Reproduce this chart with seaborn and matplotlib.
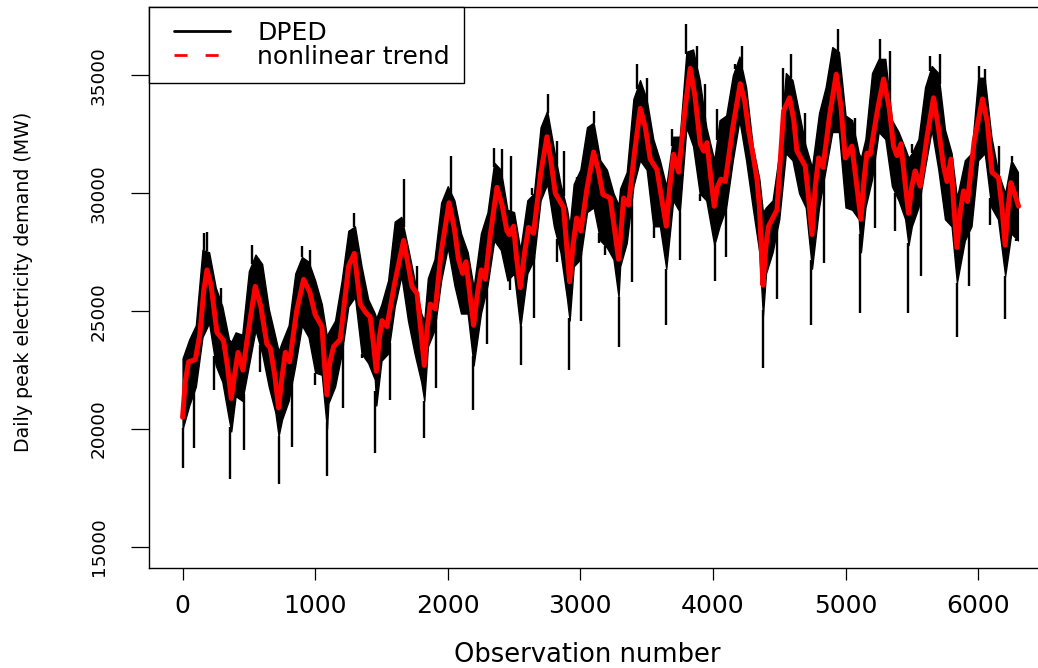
import numpy as np
import pandas as pd
import matplotlib
matplotlib.use("Agg")
import matplotlib.pyplot as plt
import seaborn as sns
from matplotlib.lines import Line2D
from matplotlib.legend_handler import HandlerLine2D

sns.set_style("ticks")
plt.rcParams["font.family"] = ["DejaVu Sans"]
plt.rcParams["text.color"] = "black"
plt.rcParams["axes.labelcolor"] = "black"
plt.rcParams["xtick.color"] = "black"
plt.rcParams["ytick.color"] = "black"

# Daily peak electricity demand: upper / lower extent of the dense daily band
band_obs = [0, 50, 100, 150, 200, 250, 300, 350, 367, 400, 450, 500, 550, 600, 650,
            700, 724, 750, 800, 850, 900, 950, 1000, 1050, 1089, 1100, 1150, 1200,
            1250, 1300, 1350, 1400, 1450, 1461, 1500, 1550, 1600, 1650, 1700, 1750,
            1800, 1823, 1850, 1900, 1950, 2000, 2050, 2100, 2150, 2195, 2250, 2300,
            2350, 2400, 2450, 2500, 2547, 2600, 2650, 2700, 2750, 2800, 2850, 2900,
            2919, 2950, 3000, 3050, 3100, 3150, 3200, 3250, 3288, 3300, 3350, 3400,
            3450, 3500, 3550, 3600, 3648, 3700, 3750, 3800, 3850, 3900, 3950, 4010,
            4050, 4100, 4150, 4200, 4250, 4300, 4350, 4377, 4400, 4450, 4500, 4550,
            4600, 4650, 4700, 4747, 4800, 4850, 4900, 4950, 5000, 5050, 5100, 5116,
            5150, 5200, 5250, 5300, 5350, 5400, 5450, 5475, 5500, 5550, 5600, 5650,
            5700, 5750, 5800, 5840, 5900, 5950, 6000, 6050, 6100, 6150, 6204, 6250,
            6300]
band_hi = [23000, 23800, 24400, 27600, 27500, 26000, 25200, 23800, 23700, 24100, 24000,
           26700, 27400, 27000, 25100, 23900, 23300, 23700, 24400, 26600, 27300, 27100,
           26300, 25300, 23900, 24100, 24600, 26300, 28400, 28600, 26900, 25500, 24900,
           24700, 25300, 26300, 28800, 29000, 27700, 26300, 24900, 24600, 26400, 27200,
           29600, 30300, 29700, 28300, 27500, 26000, 28300, 29200, 31300, 31000, 29300,
           29200, 27600, 29700, 30000, 32800, 33500, 31900, 30400, 29300, 28600, 30400,
           31000, 32800, 33000, 31400, 31000, 30000, 29500, 30200, 30900, 34000, 34800,
           34000, 32300, 31400, 30300, 32400, 32400, 36000, 36100, 34800, 32800, 31400,
           33100, 33300, 35000, 35800, 34500, 32000, 30600, 29200, 29400, 29700, 31700,
           35100, 34800, 33400, 32000, 31100, 33400, 34500, 36200, 36000, 33300, 33100,
           31700, 31500, 32300, 35100, 35700, 35700, 33100, 32600, 31900, 31500, 31700,
           32300, 34500, 35400, 35100, 32700, 31700, 29800, 31400, 31700, 34900, 34900,
           32400, 30900, 30000, 31400, 30900]
band_lo = [20000, 21000, 21800, 23900, 24500, 22700, 22000, 20400, 19900, 21400, 21200,
           22700, 24200, 23200, 21800, 20700, 19700, 20400, 21200, 22700, 24400, 23900,
           22400, 22300, 20000, 21100, 21800, 23200, 25200, 25600, 23200, 22800, 22100,
           21000, 22900, 23200, 25200, 26500, 24600, 23200, 22000, 21200, 23500, 24200,
           26300, 27700, 26100, 24900, 24900, 22700, 24900, 26100, 28000, 27600, 26300,
           26600, 24300, 26600, 27200, 29700, 30400, 28600, 27500, 25500, 24600, 26900,
           27200, 29200, 29400, 28000, 27700, 27200, 25600, 26900, 27900, 30300, 31400,
           31000, 28600, 28600, 26800, 29700, 29200, 32800, 32000, 30000, 29700, 27800,
           28600, 29400, 31400, 33100, 31400, 29400, 27500, 24800, 26600, 27500, 28900,
           31700, 31400, 30000, 29400, 26800, 29400, 31000, 32600, 32600, 29400, 29300,
           28900, 27500, 29400, 30600, 32600, 32300, 30300, 29700, 28900, 27800, 28600,
           29400, 31100, 32700, 31000, 28900, 28600, 26200, 28000, 28600, 31400, 31700,
           29400, 28900, 26500, 28300, 28000]

# Single days reaching far outside the band (low and high extremes)
spike_obs = [3, 88, 239, 360, 460, 582, 724, 825, 1001, 1092, 1210, 1353, 1455, 1561,
             1823, 1913, 2187, 2297, 2471, 2549, 2653, 2824, 2917, 3007, 3138, 3188,
             3288, 3391, 3552, 3648, 3748, 3904, 4012, 4099, 4380, 4483, 4740, 4837,
             5107, 5224, 5375, 5473, 5570, 5840, 5928, 6091, 6204, 6287,
             159, 184, 292, 523, 566, 900, 963, 1260, 1295, 1667, 1768, 2027, 2346,
             2409, 2477, 2635, 2753, 2824, 2874, 2974, 3100, 3427, 3502, 3690, 3799,
             3879, 3942, 4030, 4168, 4218, 4528, 4588, 4696, 4940, 5073, 5262, 5337,
             5501, 5639, 5710, 6003, 6054, 6154, 6255]
spike_mw = [18350, 19200, 21660, 17900, 19100, 22400, 17650, 19250, 21850, 18000, 20880,
            23000, 18970, 21230, 19600, 21750, 20800, 23600, 25900, 22700, 24700, 27100,
            22510, 24600, 27900, 27400, 23500, 26250, 28100, 24400, 27180, 29660, 26260,
            27300, 22600, 25500, 24420, 27050, 24920, 28530, 28390, 24920, 26475, 23925,
            26050, 28670, 24680, 27960,
            28300, 28350, 25980, 27820, 27110, 27750, 27600, 28320, 29170, 30600, 26900,
            31600, 31930, 31860, 31575, 30230, 34200, 32200, 31800, 30440, 33490, 35470,
            34900, 32710, 37170, 36250, 34620, 33560, 35470, 36250, 35330, 35900, 33420,
            36960, 33200, 36540, 36040, 32070, 35830, 35900, 35400, 35260, 32000, 31580]

# Nonlinear trend fitted to the series
trend_obs = [0, 20, 45, 96, 130, 160, 184, 215, 259, 309, 340, 367, 395, 418, 455, 500,
             548, 590, 636, 661, 695, 724, 750, 775, 807, 860, 913, 960, 1000, 1051,
             1070, 1089, 1110, 1139, 1189, 1230, 1252, 1295, 1340, 1380, 1415, 1440,
             1461, 1485, 1504, 1541, 1600, 1667, 1700, 1730, 1768, 1795, 1823, 1845,
             1868, 1906, 1950, 2010, 2050, 2081, 2112, 2137, 2165, 2195, 2225, 2253,
             2283, 2320, 2371, 2410, 2446, 2464, 2496, 2520, 2547, 2580, 2609, 2647,
             2700, 2748, 2780, 2811, 2873, 2895, 2919, 2945, 2972, 3004, 3050, 3100,
             3135, 3170, 3225, 3255, 3288, 3310, 3326, 3364, 3410, 3452, 3490, 3527,
             3578, 3610, 3648, 3675, 3703, 3741, 3790, 3829, 3865, 3904, 3929, 3955,
             3985, 4010, 4035, 4060, 4093, 4150, 4206, 4240, 4268, 4300, 4332, 4351,
             4377, 4400, 4419, 4483, 4533, 4578, 4610, 4633, 4696, 4720, 4747, 4772,
             4797, 4830, 4880, 4930, 4965, 4998, 5048, 5085, 5116, 5140, 5161, 5186,
             5240, 5287, 5330, 5362, 5388, 5418, 5450, 5475, 5500, 5525, 5563, 5615,
             5664, 5700, 5739, 5765, 5795, 5815, 5840, 5865, 5890, 5920, 5970, 6033,
             6070, 6104, 6154, 6180, 6204, 6225, 6247, 6275, 6305]
trend_mw = [20500, 22000, 22850, 22950, 24000, 25900, 26750, 26100, 24100, 23750, 22600,
            21300, 22400, 23250, 22500, 24300, 26050, 25200, 23600, 23450, 22300, 20900,
            22200, 23250, 22850, 25000, 26350, 25800, 24850, 24350, 22800, 21450, 22800,
            23500, 23800, 25800, 26900, 27450, 25300, 24950, 24750, 23600, 22450, 23900,
            24600, 24350, 26200, 28000, 27000, 26050, 25750, 24300, 22700, 24300, 25300,
            25100, 27500, 29600, 28500, 27200, 26600, 27100, 25800, 24400, 25800, 26750,
            26350, 28200, 30250, 29500, 28400, 28250, 28600, 27200, 26000, 27500, 28550,
            28300, 30800, 32400, 31300, 30000, 29400, 27900, 26250, 27800, 28950, 28400,
            30200, 31750, 31000, 29950, 29800, 28600, 27200, 28600, 29800, 29500, 31800,
            33600, 32800, 31450, 31000, 29900, 28600, 30300, 31650, 30900, 33600, 35300,
            34100, 32100, 31800, 32150, 30600, 29450, 30300, 30600, 30500, 32800, 34650,
            33900, 32700, 31700, 30600, 29400, 26100, 27800, 28600, 29300, 33500, 34050,
            33100, 31800, 31150, 29900, 28250, 30300, 31500, 31100, 33300, 35050, 33700,
            31500, 32000, 30300, 28900, 30600, 31700, 31650, 33500, 34850, 33600, 32000,
            31600, 32100, 30400, 29150, 30300, 30950, 30300, 32400, 34050, 32800, 31150,
            30500, 31450, 29600, 27700, 29200, 30100, 29650, 32200, 34000, 33000, 30900,
            30650, 29400, 27800, 29300, 30450, 30000, 29450]

x_ticks = [0, 1000, 2000, 3000, 4000, 5000, 6000]
y_ticks = [15000, 20000, 25000, 30000, 35000]

band = pd.DataFrame({"obs": band_obs, "hi": band_hi, "lo": band_lo})
trend = pd.DataFrame({"obs": trend_obs, "mw": trend_mw})
spikes = pd.DataFrame({"obs": spike_obs, "mw": spike_mw})
lo_at = np.interp(spikes["obs"], band["obs"], band["lo"])
hi_at = np.interp(spikes["obs"], band["obs"], band["hi"])
spikes["base"] = np.where(spikes["mw"] < lo_at, lo_at, hi_at)

W, H = 1038, 668
fig = plt.figure(figsize=(W / 100, H / 100), dpi=100)
ax = fig.add_axes([149.3 / W, 100.3 / H, 902 / W, 560.2 / H])

ax.fill_between(band["obs"], band["lo"], band["hi"], facecolor="black",
                edgecolor="black", linewidth=1.0)
ax.vlines(spikes["obs"], spikes["base"], spikes["mw"], color="black", linewidth=1.7)
sns.lineplot(data=trend, x="obs", y="mw", ax=ax, color="#ff0000", linewidth=3.6,
             estimator=None, sort=False)

ax.set_xlim(-251, 6552)
ax.set_ylim(14120, 37880)
ax.set_xticks(x_ticks)
ax.set_yticks(y_ticks)
ax.set_xticklabels([str(v) for v in x_ticks])
ax.set_yticklabels([str(v) for v in y_ticks])
ax.tick_params(axis="x", length=8.9, width=0.9, pad=10, labelsize=18,
               direction="out", color="black", labelcolor="black")
ax.tick_params(axis="y", length=13, width=0.9, pad=17, labelsize=13.2,
               direction="out", color="black", labelcolor="black", labelrotation=90)
for lab in ax.get_yticklabels():
    lab.set_va("center")

for side in ["left", "bottom", "top", "right"]:
    ax.spines[side].set_color("black")
    ax.spines[side].set_linewidth(1.0)

ax.set_xlabel("Observation number", fontsize=18.5, va="center", color="black")
ax.xaxis.set_label_coords(0.486, -0.155)
ax.set_ylabel("Daily peak electricity demand (MW)", fontsize=13.7, va="center",
              color="black")
ax.yaxis.set_label_coords(-0.140, 0.51)

handles = [Line2D([], [], color="black", linewidth=2.0),
           Line2D([], [], color="#ff0000", linewidth=2.0, linestyle=(0, (4.7, 6.5)))]
leg = ax.legend(handles, ["DPED", "nonlinear trend"], loc="upper left",
                bbox_to_anchor=(0, 1), borderaxespad=0, frameon=True, fancybox=False,
                framealpha=1, edgecolor="black", fontsize=18, handlelength=2.69,
                handletextpad=1.08, borderpad=0.55, labelspacing=0.0,
                handler_map={Line2D: HandlerLine2D(xpad=0.45)})
leg.get_frame().set_linewidth(1.0)
for t in leg.get_texts():
    t.set_color("black")

fig.savefig("out.png", dpi=100)
